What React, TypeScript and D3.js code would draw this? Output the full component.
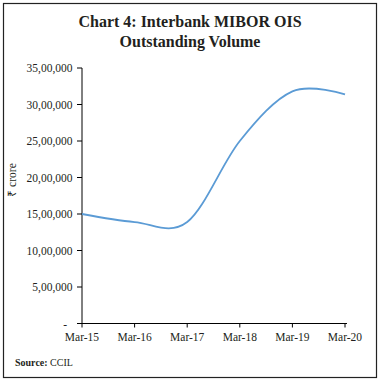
import React from "react";
import * as d3 from "d3";

const categories = ["Mar-15", "Mar-16", "Mar-17", "Mar-18", "Mar-19", "Mar-20"];
const volumes = [1500000, 1390000, 1390000, 2500000, 3180000, 3140000];
const yTicks = [0, 500000, 1000000, 1500000, 2000000, 2500000, 3000000, 3500000];
const yTickLabels = ["-", "5,00,000", "10,00,000", "15,00,000", "20,00,000", "25,00,000", "30,00,000", "35,00,000"];

const W = 380;
const H = 382;
const FONT = "'Liberation Serif', 'Times New Roman', serif";

export default function App() {
  const x = d3.scalePoint<string>().domain(categories).range([82, 345]);
  const y = d3.scaleLinear().domain([0, 3500000]).range([323.5, 68]);
  const line = d3
    .line<number>()
    .x((_, i) => x(categories[i]) as number)
    .y((d) => y(d))
    .curve(d3.curveCardinal.tension(0));
  const path = line(volumes) || "";

  return (
    <svg
      width={W}
      height={H}
      viewBox={`0 0 ${W} ${H}`}
      style={{ position: "absolute", left: 0, top: 0, background: "#fff" }}
    >
      <rect x={3.5} y={3.5} width={373} height={374} fill="#fff" stroke="#222" strokeWidth={1.2} />
      <text x={190} y={27} textAnchor="middle" fontFamily={FONT} fontWeight="bold" fontSize={16} fill="#231f20">
        Chart 4: Interbank MIBOR OIS
      </text>
      <text x={190} y={47} textAnchor="middle" fontFamily={FONT} fontWeight="bold" fontSize={16} fill="#231f20">
        Outstanding Volume
      </text>

      {/* y axis */}
      <line x1={82} x2={82} y1={y(3500000)} y2={y(0)} stroke="#000" strokeWidth={1} />
      {yTicks.map((t, i) => (
        <g key={t}>
          <line x1={77} x2={82} y1={y(t)} y2={y(t)} stroke="#000" strokeWidth={1} />
          <text
            x={i === 0 ? 67 : 72.5}
            y={y(t)}
            dy="0.35em"
            textAnchor="end"
            fontFamily={FONT}
            fontSize={11.5}
            fill="#231f20"
          >
            {yTickLabels[i]}
          </text>
        </g>
      ))}
      <text
        transform={`translate(16, 180) rotate(-90)`}
        textAnchor="middle"
        fontFamily={FONT}
        fontSize={11.5}
        fill="#231f20"
      >
        ₹ crore
      </text>

      {/* x axis */}
      <line x1={82} x2={347} y1={y(0)} y2={y(0)} stroke="#000" strokeWidth={1} />
      {categories.map((c) => (
        <g key={c}>
          <line x1={x(c)} x2={x(c)} y1={y(0)} y2={y(0) + 4} stroke="#000" strokeWidth={1} />
          <text x={x(c)} y={341} textAnchor="middle" fontFamily={FONT} fontSize={11.5} fill="#231f20">
            {c}
          </text>
        </g>
      ))}

      <path d={path} fill="none" stroke="#5b9bd5" strokeWidth={1.8} />

      <text x={15} y={366} fontFamily={FONT} fontSize={10} fill="#231f20">
        <tspan fontWeight="bold">Source:</tspan>
        <tspan> CCIL</tspan>
      </text>
    </svg>
  );
}
